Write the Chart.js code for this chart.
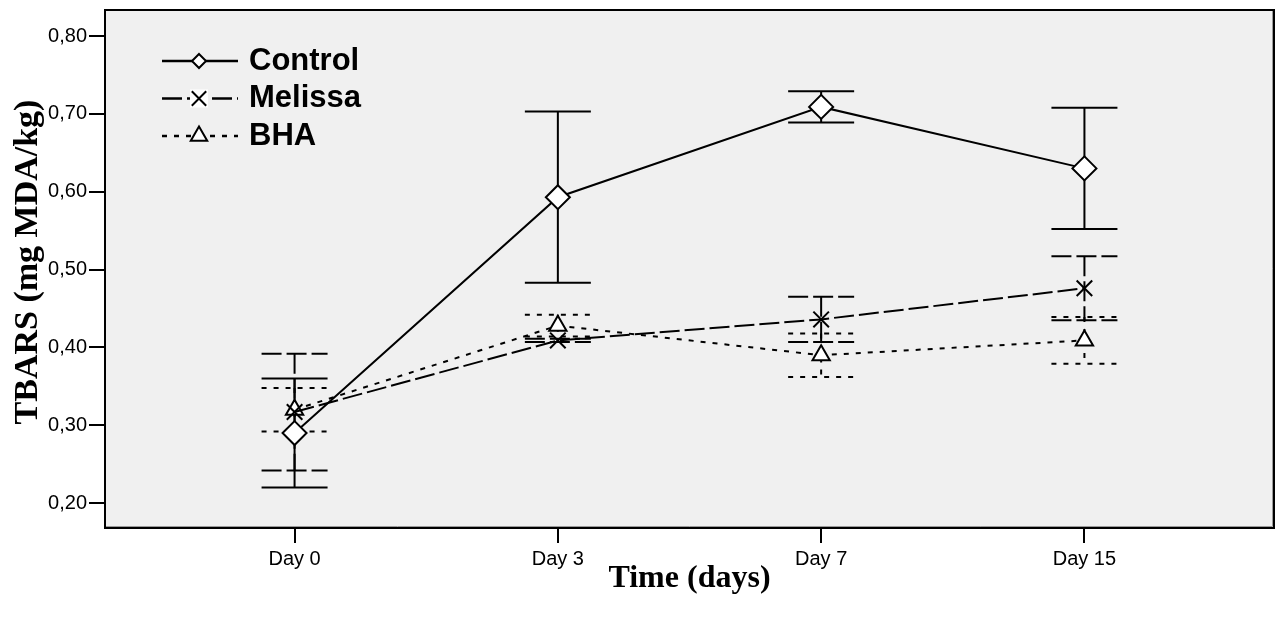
<!DOCTYPE html>
<html>
<head>
<meta charset="utf-8">
<script src="https://cdn.jsdelivr.net/npm/chart.js@4"></script>
<style>
  html, body { margin: 0; padding: 0; background: #fff; overflow: hidden; }
  canvas { display: block; }
</style>
</head>
<body>
<canvas id="c" width="1279" height="617"></canvas>
<script>
// ---- data ------------------------------------------------------------------
const DAYS        = ['Day 0', 'Day 3', 'Day 7', 'Day 15'];
const CONTROL     = [0.290, 0.593, 0.709, 0.630];
const CONTROL_ERR = [0.070, 0.110, 0.020, 0.078];
const MELISSA     = [0.317, 0.409, 0.436, 0.476];
const MELISSA_ERR = [0.075, 0.002, 0.029, 0.041];
const BHA         = [0.320, 0.428, 0.390, 0.409];
const BHA_ERR     = [0.028, 0.014, 0.028, 0.030];
const Y_TICKS     = [0.20, 0.30, 0.40, 0.50, 0.60, 0.70, 0.80];

const X_TITLE = 'Time (days)';
const Y_TITLE = 'TBARS (mg MDA/kg)';

const SANS  = '"Liberation Sans", Arial, sans-serif';
const SERIF = '"Liberation Serif", "Times New Roman", serif';

function pts(vals) { return vals.map((v, i) => ({ x: i, y: v })); }

function series(label, vals, errs, style, radius, dash, fill) {
  return {
    label, data: pts(vals), errors: errs,
    borderColor: '#000', backgroundColor: fill, borderWidth: 2, borderDash: dash,
    pointStyle: style, pointRadius: radius, pointBorderWidth: 2,
    pointBackgroundColor: fill, pointBorderColor: '#000',
    tension: 0, fill: false,
  };
}

// ---- plugins ---------------------------------------------------------------
const plotFrame = {
  id: 'plotFrame',
  beforeDraw(chart) {
    const { ctx, chartArea: a } = chart;
    ctx.save();
    ctx.fillStyle = '#f0f0f0';
    ctx.fillRect(a.left, a.top, a.right - a.left, a.bottom - a.top);
    ctx.restore();
  },
  afterDraw(chart) {
    const { ctx, chartArea: a } = chart;
    ctx.save();
    ctx.strokeStyle = '#000';
    ctx.lineWidth = 2;
    ctx.strokeRect(a.left, a.top, a.right - a.left, a.bottom - a.top);
    // faint inner shade along right / bottom edges
    ctx.strokeStyle = '#9a9a9a';
    ctx.lineWidth = 1;
    ctx.beginPath();
    ctx.moveTo(a.right - 1.5, a.top + 1); ctx.lineTo(a.right - 1.5, a.bottom - 1.5);
    ctx.lineTo(a.left + 1, a.bottom - 1.5);
    ctx.stroke();
    ctx.restore();
  },
};

// axis titles (serif, bold)
const axisTitles = {
  id: 'axisTitles',
  afterDraw(chart) {
    const { ctx, chartArea: a } = chart;
    ctx.save();
    ctx.fillStyle = '#000';
    ctx.textAlign = 'center';
    ctx.textBaseline = 'middle';
    ctx.font = 'bold 32px ' + SERIF;
    ctx.fillText(X_TITLE, (a.left + a.right) / 2, 579);
    ctx.translate(28, 262);
    ctx.rotate(-Math.PI / 2);
    ctx.font = 'bold 34px ' + SERIF;
    ctx.fillText(Y_TITLE, 0, 0);
    ctx.restore();
  },
};

// error bars: vertical line + caps, in the series' own dash style
const errorBars = {
  id: 'errorBars',
  beforeDatasetsDraw(chart) {
    const { ctx, scales: { x, y } } = chart;
    const half = 33;
    ctx.save();
    chart.data.datasets.forEach(d => {
      ctx.strokeStyle = '#000';
      ctx.lineWidth = 2;
      ctx.setLineDash(d.borderDash || []);
      d.data.forEach((p, i) => {
        const e = d.errors[i];
        const px = x.getPixelForValue(p.x);
        const yt = y.getPixelForValue(p.y + e);
        const yb = y.getPixelForValue(p.y - e);
        ctx.beginPath();
        ctx.moveTo(px, yt); ctx.lineTo(px, yb);
        ctx.moveTo(px - half, yt); ctx.lineTo(px + half, yt);
        ctx.moveTo(px - half, yb); ctx.lineTo(px + half, yb);
        ctx.stroke();
      });
    });
    ctx.restore();
  },
};

function marker(ctx, style, cx, cy, r) {
  ctx.beginPath();
  if (style === 'rectRot') {
    ctx.moveTo(cx, cy - r); ctx.lineTo(cx + r, cy);
    ctx.lineTo(cx, cy + r); ctx.lineTo(cx - r, cy); ctx.closePath();
    ctx.fill(); ctx.stroke();
  } else if (style === 'triangle') {
    const w = r * Math.sin(Math.PI / 3);
    ctx.moveTo(cx, cy - r); ctx.lineTo(cx + w, cy + r / 2);
    ctx.lineTo(cx - w, cy + r / 2); ctx.closePath();
    ctx.fill(); ctx.stroke();
  } else {
    ctx.fillStyle = '#fff';
    ctx.fillRect(cx - r, cy - r, 2 * r, 2 * r);
    const k = r * 0.8;
    ctx.moveTo(cx - k, cy - k); ctx.lineTo(cx + k, cy + k);
    ctx.moveTo(cx + k, cy - k); ctx.lineTo(cx - k, cy + k);
    ctx.stroke();
  }
}

// legend in the upper left of the plot: line + marker + bold label
const lineLegend = {
  id: 'lineLegend',
  afterDraw(chart) {
    const { ctx } = chart;
    const sizes = [7, 9, 9.5];
    ctx.save();
    chart.data.datasets.forEach((d, i) => {
      const y = 61 + i * 37.5;
      ctx.strokeStyle = '#000';
      ctx.lineWidth = 2.5;
      ctx.setLineDash(d.borderDash || []);
      ctx.beginPath(); ctx.moveTo(162, y); ctx.lineTo(238, y); ctx.stroke();
      ctx.setLineDash([]);
      ctx.lineWidth = 2;
      ctx.fillStyle = '#fff';
      marker(ctx, d.pointStyle, 199, y, sizes[i]);
      ctx.fillStyle = '#000';
      ctx.font = 'bold 31px ' + SANS;
      ctx.textBaseline = 'middle';
      ctx.textAlign = 'left';
      ctx.fillText(d.label, 249, y);
    });
    ctx.restore();
  },
};

// ---- chart -----------------------------------------------------------------
new Chart(document.getElementById('c'), {
  type: 'line',
  data: {
    datasets: [
      series('Control', CONTROL, CONTROL_ERR, 'rectRot', 12, [], '#fff'),
      series('Melissa', MELISSA, MELISSA_ERR, 'crossRot', 11, [20, 5], '#000'),
      series('BHA', BHA, BHA_ERR, 'triangle', 10, [5, 7], '#fff'),
    ],
  },
  options: {
    animation: false,
    responsive: false,
    layout: { autoPadding: false, padding: { left: 0, top: 10, right: 5, bottom: 0 } },
    plugins: { legend: { display: false }, tooltip: { enabled: false } },
    scales: {
      x: {
        type: 'linear', min: -0.72, max: 3.72,
        afterBuildTicks: s => { s.ticks = DAYS.map((_, i) => ({ value: i })); },
        afterFit: s => { s.height = 89; s.paddingLeft = 0; s.paddingRight = 0; },
        ticks: { color: '#000', padding: 4, font: { size: 20, family: SANS },
                 callback: v => DAYS[v] },
        grid: { drawOnChartArea: false, tickLength: 15, color: '#000', lineWidth: 2 },
        border: { display: false },
      },
      y: {
        type: 'linear', min: 0.168, max: 0.8335,
        afterBuildTicks: s => { s.ticks = Y_TICKS.map(v => ({ value: v })); },
        afterFit: s => { s.width = 105; s.paddingTop = 0; s.paddingBottom = 0; },
        ticks: { color: '#000', padding: 2, font: { size: 20, family: SANS },
                 callback: v => v.toFixed(2).replace('.', ',') },
        grid: { drawOnChartArea: false, tickLength: 16, color: '#000', lineWidth: 2 },
        border: { display: false },
      },
    },
  },
  plugins: [plotFrame, errorBars, axisTitles, lineLegend],
});
</script>
</body>
</html>
